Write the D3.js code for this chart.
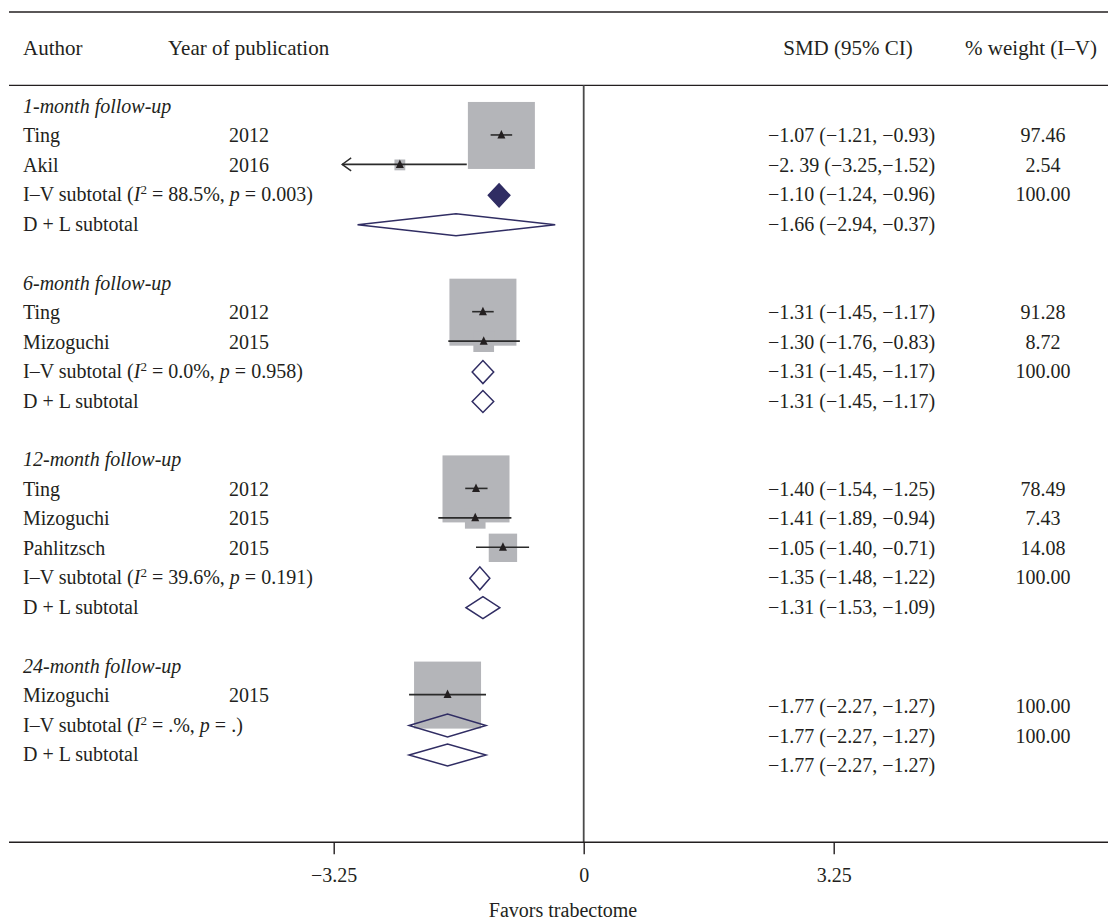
<!DOCTYPE html>
<html>
<head>
<meta charset="utf-8">
<script src="https://cdn.jsdelivr.net/npm/d3@7"></script>
<style>
  html, body { margin: 0; padding: 0; background: #fff; }
  svg text { font-family: "Liberation Serif", "Times New Roman", serif; fill: #231f20; }
</style>
</head>
<body>
<svg id="chart" width="1108" height="920"></svg>
<script>
// ---------------- data ----------------
const groupNames = ["1-month follow-up", "6-month follow-up", "12-month follow-up", "24-month follow-up"];

const studyAuthor = ["Ting", "Akil", "Ting", "Mizoguchi", "Ting", "Mizoguchi", "Pahlitzsch", "Mizoguchi"];
const studyYear   = ["2012", "2016", "2012", "2015", "2012", "2015", "2015", "2015"];
const studyGroup  = [0, 0, 1, 1, 2, 2, 2, 3];
const studySMD    = [-1.07, -2.39, -1.31, -1.30, -1.40, -1.41, -1.05, -1.77];
const studyLo     = [-1.21, -3.25, -1.45, -1.76, -1.54, -1.89, -1.40, -2.27];
const studyHi     = [-0.93, -1.52, -1.17, -0.83, -1.25, -0.94, -0.71, -1.27];
const studyWeight = [97.46, 2.54, 91.28, 8.72, 78.49, 7.43, 14.08, 100.00];
const studyCIText = ["−1.07 (−1.21, −0.93)", "−2. 39 (−3.25,−1.52)", "−1.31 (−1.45, −1.17)", "−1.30 (−1.76, −0.83)",
                     "−1.40 (−1.54, −1.25)", "−1.41 (−1.89, −0.94)", "−1.05 (−1.40, −0.71)", "−1.77 (−2.27, −1.27)"];
const studyWText  = ["97.46", "2.54", "91.28", "8.72", "78.49", "7.43", "14.08", "100.00"];

const ivSMD  = [-1.10, -1.31, -1.35, -1.77];
const ivLo   = [-1.24, -1.45, -1.48, -2.27];
const ivHi   = [-0.96, -1.17, -1.22, -1.27];
const ivI2   = ["88.5%", "0.0%", "39.6%", ".%"];
const ivP    = ["0.003", "0.958", "0.191", "."];
const ivCIText = ["−1.10 (−1.24, −0.96)", "−1.31 (−1.45, −1.17)", "−1.35 (−1.48, −1.22)", "−1.77 (−2.27, −1.27)"];
const ivWText  = ["100.00", "100.00", "100.00", "100.00"];

const dlSMD  = [-1.66, -1.31, -1.31, -1.77];
const dlLo   = [-2.94, -1.45, -1.53, -2.27];
const dlHi   = [-0.37, -1.17, -1.09, -1.27];
const dlCIText = ["−1.66 (−2.94, −0.37)", "−1.31 (−1.45, −1.17)", "−1.31 (−1.53, −1.09)", "−1.77 (−2.27, −1.27)"];

const tickValues = [-3.25, 0, 3.25];
const tickLabels = ["−3.25", "0", "3.25"];
const xTitle = "Favors trabectome";
const headers = ["Author", "Year of publication", "SMD (95% CI)", "% weight (I–V)"];

// ---------------- layout ----------------
const svg = d3.select("#chart");
const W = 1108;
const FS = 20;
const HFS = 21;
const x = d3.scaleLinear().domain([-3.25, 3.25]).range([333.7, 833.7]);
const clipMin = -3.14;               // display limit on the left (arrow)
const yRow = d3.scaleLinear().domain([0, 22]).range([107, 755]);

// build row list
const rows = [];
let r = 0;
groupNames.forEach((g, gi) => {
  rows.push({type: "header", g: gi, row: r++});
  studyAuthor.forEach((a, i) => {
    if (studyGroup[i] === gi) rows.push({type: "study", g: gi, i: i, row: r++});
  });
  rows.push({type: "iv", g: gi, row: r++});
  rows.push({type: "dl", g: gi, row: r++});
  r++; // blank
});

const statShift = g => (g === 3 ? 11 : 0);
const lineColor = "#231f20";
const navy = "#302d63";
const boxGray = "#b4b5b9";

// frame lines
svg.append("line").attr("x1", 9).attr("x2", W).attr("y1", 12).attr("y2", 12)
  .attr("stroke", lineColor).attr("stroke-width", 1.3);
svg.append("line").attr("x1", 9).attr("x2", W).attr("y1", 85.3).attr("y2", 85.3)
  .attr("stroke", lineColor).attr("stroke-width", 1.3);

// headers
const hdr = svg.append("g").attr("font-size", HFS);
hdr.append("text").attr("x", 23).attr("y", 55).text(headers[0]);
hdr.append("text").attr("x", 168).attr("y", 55).text(headers[1]);
hdr.append("text").attr("x", 848).attr("y", 55).attr("text-anchor", "middle").text(headers[2]);
hdr.append("text").attr("x", 1031).attr("y", 55).attr("text-anchor", "middle").text(headers[3]);

// zero line
svg.append("line").attr("x1", x(0)).attr("x2", x(0)).attr("y1", 85.3).attr("y2", 842.3)
  .attr("stroke", "#4a4a4a").attr("stroke-width", 1.8);

// boxes
const gMax = groupNames.map((g, gi) => d3.max(studyWeight.filter((w, i) => studyGroup[i] === gi)));
const studyRows = rows.filter(d => d.type === "study");
const marks = svg.append("g");
studyRows.forEach(d => {
  const i = d.i;
  const side = d3.scaleSqrt().domain([0, gMax[d.g]]).range([0, 67])(studyWeight[i]);
  const cy = yRow(d.row) - 1;
  marks.append("rect")
    .attr("x", x(studySMD[i]) - side / 2).attr("y", cy - side / 2)
    .attr("width", side).attr("height", side)
    .attr("fill", boxGray);
});
// CI lines, arrows, triangles
studyRows.forEach(d => {
  const i = d.i;
  const cy = yRow(d.row) - 1.5;
  const lo = Math.max(studyLo[i], clipMin);
  marks.append("line")
    .attr("x1", x(lo)).attr("x2", x(studyHi[i])).attr("y1", cy).attr("y2", cy)
    .attr("stroke", "#2b2b2b").attr("stroke-width", 1.6);
  if (studyLo[i] < clipMin) {
    const ax = x(clipMin);
    marks.append("path")
      .attr("d", `M${ax + 9},${cy - 6.5} L${ax},${cy} L${ax + 9},${cy + 6.5}`)
      .attr("fill", "none").attr("stroke", "#2b2b2b").attr("stroke-width", 1.4);
  }
  const px = x(studySMD[i]);
  marks.append("path")
    .attr("d", `M${px},${cy - 5} L${px + 4},${cy + 3.5} L${px - 4},${cy + 3.5} Z`)
    .attr("fill", lineColor);
});

// diamonds
function diamond(cx0, lo, hi, cy, h) {
  return `M${x(lo)},${cy} L${x(cx0)},${cy - h} L${x(hi)},${cy} L${x(cx0)},${cy + h} Z`;
}
rows.filter(d => d.type === "iv" || d.type === "dl").forEach(d => {
  const gi = d.g;
  const cy = yRow(d.row);
  const iv = d.type === "iv";
  const filled = iv && gi === 0;
  marks.append("path")
    .attr("d", iv ? diamond(ivSMD[gi], ivLo[gi], ivHi[gi], cy, 11.5)
                  : diamond(dlSMD[gi], dlLo[gi], dlHi[gi], cy, 11))
    .attr("fill", filled ? navy : "none")
    .attr("stroke", navy).attr("stroke-width", 1.5)
    .attr("stroke-linejoin", "miter");
});

// left / right text
const txt = svg.append("g").attr("font-size", FS);
rows.forEach(d => {
  const by = yRow(d.row) + 6;
  const gi = d.g;
  if (d.type === "header") {
    txt.append("text").attr("x", 23).attr("y", by).attr("font-style", "italic").text(groupNames[gi]);
  } else if (d.type === "study") {
    txt.append("text").attr("x", 23).attr("y", by).text(studyAuthor[d.i]);
    txt.append("text").attr("x", 229).attr("y", by).text(studyYear[d.i]);
    txt.append("text").attr("x", 768).attr("y", by + statShift(gi)).text(studyCIText[d.i]);
    txt.append("text").attr("x", 1043).attr("y", by + statShift(gi)).attr("text-anchor", "middle").text(studyWText[d.i]);
  } else if (d.type === "iv") {
    const t = txt.append("text").attr("x", 23).attr("y", by);
    t.append("tspan").text("I–V subtotal (");
    t.append("tspan").attr("font-style", "italic").text("I");
    t.append("tspan").attr("font-size", 13).attr("dy", -7).text("2");
    t.append("tspan").attr("dy", 7).text(" = " + ivI2[gi] + ", ");
    t.append("tspan").attr("font-style", "italic").text("p");
    t.append("tspan").text(" = " + ivP[gi] + ")");
    txt.append("text").attr("x", 768).attr("y", by + statShift(gi)).text(ivCIText[gi]);
    txt.append("text").attr("x", 1043).attr("y", by + statShift(gi)).attr("text-anchor", "middle").text(ivWText[gi]);
  } else if (d.type === "dl") {
    txt.append("text").attr("x", 23).attr("y", by).text("D + L subtotal");
    txt.append("text").attr("x", 768).attr("y", by + statShift(gi)).text(dlCIText[gi]);
  }
});

// axis
svg.append("line").attr("x1", 9).attr("x2", W).attr("y1", 842.3).attr("y2", 842.3)
  .attr("stroke", lineColor).attr("stroke-width", 1.4);
const axis = d3.axisBottom(x).tickValues(tickValues).tickSize(12).tickPadding(15)
  .tickFormat((v, i) => tickLabels[i]);
const ag = svg.append("g").attr("transform", "translate(0,842.3)").call(axis);
ag.select(".domain").remove();
ag.selectAll(".tick line").attr("stroke", lineColor).attr("stroke-width", 1.4);
ag.selectAll(".tick text").attr("font-size", FS).attr("font-family", "Liberation Serif, serif")
  .attr("fill", "#231f20").attr("dy", null).attr("y", 39.5);

svg.append("text").attr("x", 563).attr("y", 917).attr("text-anchor", "middle")
  .attr("font-size", FS).text(xTitle);
</script>
</body>
</html>
